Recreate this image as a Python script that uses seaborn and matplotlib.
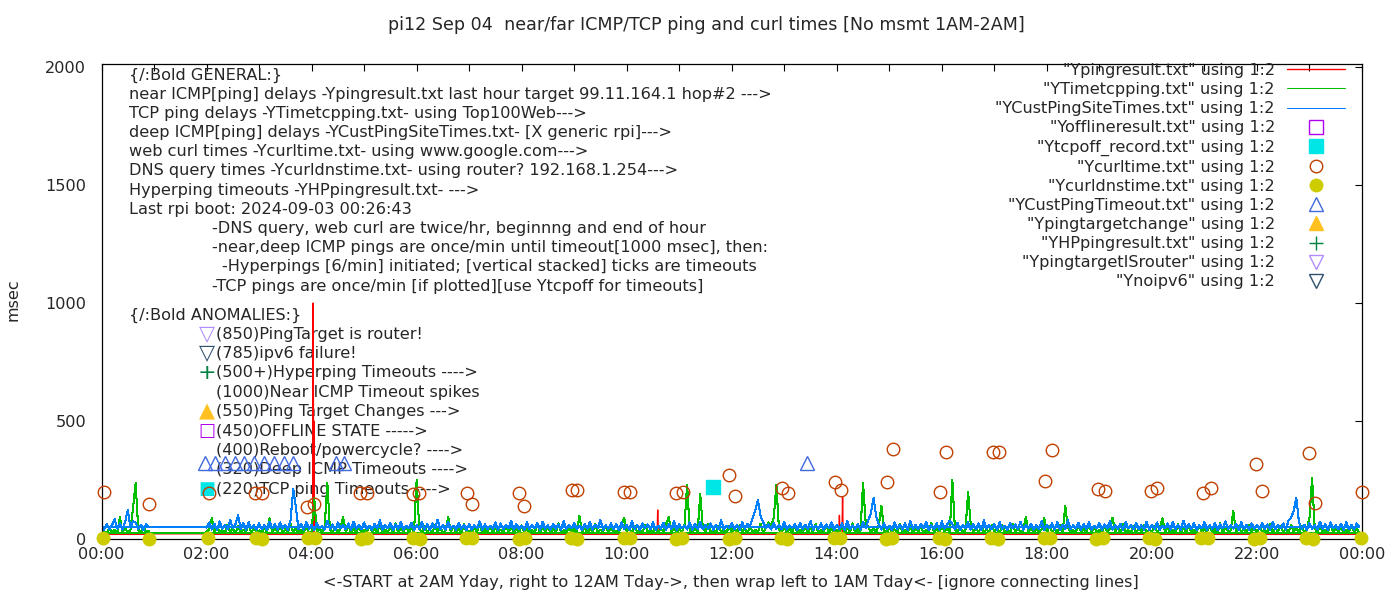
import numpy as np
import pandas as pd
import matplotlib
matplotlib.use("Agg")
import matplotlib.pyplot as plt
import seaborn as sns
from matplotlib.ticker import MultipleLocator, FuncFormatter

nan = np.nan

# 3-minute samples, one row per hour (00:00 .. 23:57); nan = no measurement
cust_ping_ms = [
    50, 40, 62, 42, 58, 85, 44, 66, 40, 72, 123, 48, 76, 70, 42, 60, 38, 64, 50, nan,      # 00
    nan, nan, nan, nan, nan, nan, nan, nan, nan, nan,
    nan, nan, nan, nan, nan, nan, nan, nan, nan, nan,                                     # 01
    48, 70, 40, 64, 38, 75, 44, 60, 41, 80, 46, 62, 100, 43, 68, 39, 72, 45, 58, 40,       # 02
    66, 42, 58, 38, 74, 45, 62, 40, 70, 44, 59, 39, 80, 212, 136, 42, 65, 40, 72, 44,      # 03
    60, 38, 68, 45, 56, 40, 78, 43, 62, 37, 70, 46, 58, 41, 66, 39, 73, 44, 60, 42,        # 04
    70, 41, 57, 39, 65, 44, 80, 40, 59, 46, 68, 38, 62, 43, 74, 40, 56, 45, 69, 39,        # 05
    58, 44, 72, 40, 63, 38, 66, 45, 82, 41, 60, 39, 71, 44, 57, 40, 68, 43, 61, 38,        # 06
    64, 40, 59, 45, 75, 39, 62, 42, 57, 44, 70, 38, 66, 41, 60, 46, 78, 40, 63, 43,        # 07
    56, 39, 71, 42, 60, 45, 67, 38, 74, 43, 58, 40, 65, 44, 62, 39, 76, 42, 59, 45,        # 08
    69, 41, 57, 38, 64, 44, 72, 40, 61, 46, 80, 39, 58, 43, 67, 41, 63, 38, 70, 44,        # 09
    60, 40, 75, 43, 58, 39, 66, 45, 62, 41, 71, 38, 57, 44, 68, 40, 64, 42, 77, 39,        # 10
    62, 45, 58, 40, 70, 38, 65, 43, 73, 41, 59, 44, 66, 39, 61, 42, 79, 40, 57, 45,        # 11
    67, 41, 60, 39, 72, 44, 63, 58, 90, 123, 165, 95, 70, 46, 62, 40, 68, 43, 59, 41,      # 12
    74, 40, 58, 45, 63, 38, 69, 42, 61, 44, 76, 39, 57, 43, 66, 40, 62, 45, 71, 38,        # 13
    60, 43, 68, 39, 75, 41, 58, 44, 64, 40, 72, 46, 80, 110, 174, 95, 62, 40, 66, 43,      # 14
    57, 39, 70, 44, 61, 40, 66, 38, 78, 43, 59, 41, 64, 45, 73, 39, 58, 42, 67, 40,        # 15
    75, 44, 60, 78, 62, 41, 69, 39, 58, 45, 72, 40, 63, 42, 66, 38, 80, 44, 59, 41,        # 16
    64, 40, 71, 43, 57, 39, 68, 45, 62, 41, 74, 38, 60, 44, 65, 40, 58, 42, 76, 39,        # 17
    59, 45, 66, 40, 73, 38, 61, 43, 80, 41, 58, 44, 69, 39, 63, 42, 71, 40, 57, 45,        # 18
    68, 39, 62, 44, 76, 40, 58, 42, 65, 38, 72, 45, 60, 41, 67, 43, 59, 40, 74, 38,        # 19
    61, 43, 70, 39, 57, 45, 66, 40, 73, 42, 60, 38, 78, 44, 63, 41, 69, 39, 58, 45,        # 20
    72, 40, 59, 43, 67, 38, 62, 45, 75, 41, 58, 44, 64, 39, 71, 42, 60, 40, 66, 43,        # 21
    58, 41, 69, 44, 62, 39, 73, 42, 60, 45, 66, 40, 78, 90, 120, 174, 70, 43, 61, 39,      # 22
    67, 44, 59, 40, 74, 42, 63, 38, 70, 45, 58, 41, 65, 39, 72, 43, 60, 40, 66, 50,        # 23
]

tcp_ping_ms = [
    26, 34, 25, 45, 28, 38, 26, 93, 30, 48, 27, 36, 131, 237, 40, 26, 52, 28, 35, nan,     # 00
    nan, nan, nan, nan, nan, nan, nan, nan, nan, nan,
    25, 25, 25, 25, 25, 25, 25, 25, 25, 25,                                               # 01
    30, 42, 88, 27, 50, 29, 38, 26, 61, 31, 44, 25, 55, 28, 40, 30, 66, 27, 47, 29,        # 02
    36, 26, 52, 30, 88, 27, 45, 31, 58, 25, 41, 29, 63, 28, 48, 26, 39, 30, 54, 27,        # 03
    30, 174, 28, 46, 26, 55, 237, 40, 29, 51, 27, 44, 93, 30, 58, 26, 42, 31, 49, 28,      # 04
    40, 27, 57, 30, 45, 26, 62, 29, 38, 31, 50, 25, 66, 28, 43, 30, 54, 27, 47, 29,        # 05
    250, 45, 28, 53, 30, 40, 27, 60, 29, 48, 26, 36, 93, 31, 57, 28, 44, 26, 62, 30,       # 06
    35, 26, 52, 29, 64, 27, 41, 31, 56, 25, 47, 30, 39, 28, 60, 26, 50, 29, 43, 27,        # 07
    58, 30, 45, 26, 38, 29, 62, 27, 49, 31, 55, 25, 42, 28, 66, 30, 37, 26, 53, 29,        # 08
    41, 27, 97, 30, 50, 26, 44, 29, 63, 28, 39, 31, 57, 25, 48, 30, 36, 27, 59, 90,        # 09
    30, 46, 26, 55, 29, 40, 27, 61, 31, 37, 28, 52, 25, 45, 30, 64, 92, 28, 49, 26,        # 10
    43, 30, 58, 229, 35, 27, 50, 29, 190, 46, 31, 62, 28, 41, 26, 54, 30, 39, 27, 57,      # 11
    29, 48, 26, 60, 30, 44, 27, 53, 31, 38, 28, 65, 25, 47, 70, 56, 90, 229, 40, 28,       # 12
    52, 27, 43, 30, 61, 26, 39, 29, 55, 28, 46, 31, 64, 25, 37, 30, 58, 27, 45, 29,        # 13
    38, 30, 56, 27, 48, 29, 66, 26, 42, 31, 237, 70, 50, 28, 45, 30, 60, 140, 35, 27,      # 14
    50, 26, 41, 30, 63, 28, 37, 29, 54, 27, 46, 31, 59, 25, 40, 30, 67, 28, 44, 26,        # 15
    57, 29, 45, 27, 250, 40, 30, 52, 28, 38, 200, 62, 31, 47, 26, 55, 29, 41, 27, 60,      # 16
    30, 44, 26, 58, 29, 39, 27, 63, 31, 48, 28, 36, 93, 30, 51, 26, 45, 29, 40, 88,        # 17
    28, 54, 30, 42, 26, 61, 29, 140, 47, 31, 38, 27, 57, 30, 44, 25, 65, 28, 50, 30,       # 18
    39, 27, 56, 29, 43, 90, 31, 49, 26, 62, 30, 37, 28, 53, 27, 46, 31, 59, 26, 41,        # 19
    30, 57, 28, 44, 88, 29, 51, 27, 38, 31, 63, 26, 47, 30, 55, 28, 40, 29, 60, 27,        # 20
    45, 30, 58, 26, 41, 29, 66, 27, 50, 31, 37, 119, 28, 54, 30, 43, 26, 61, 29, 48,       # 21
    27, 52, 30, 39, 28, 64, 26, 46, 31, 57, 29, 42, 27, 60, 30, 48, 26, 55, 28, 41,        # 22
    90, 258, 45, 28, 56, 30, 40, 27, 62, 29, 47, 31, 53, 26, 38, 30, 59, 28, 44, 27,       # 23
]
assert len(cust_ping_ms) == 480 and len(tcp_ping_ms) == 480

# near ICMP ping: flat, with timeout spikes
near_ping_hours = [0.0, 0.92, 2.0, 4.02, 4.03, 4.04, 4.045, 4.05, 8.32, 8.33, 8.34,
                   10.58, 10.59, 10.6, 13.29, 13.3, 13.31, 14.04, 14.05, 14.06,
                   14.1, 14.11, 14.12, 23.98]
near_ping_ms = [22, 22, 22, 22, 1000, 22, 500, 22, 22, 36, 22,
                22, 123, 22, 22, 40, 22, 22, 100, 22,
                22, 178, 22, 22]

curl_hours = [0.04, 0.91, 2.04, 2.93, 3.06, 3.92, 4.05, 4.93, 5.06, 5.94, 6.05,
              6.95, 7.06, 7.94, 8.05, 8.95, 9.06, 9.95, 10.07, 10.94, 11.08,
              11.95, 12.07, 12.96, 13.08, 13.97, 14.08, 14.96, 15.07, 15.97, 16.08,
              16.98, 17.09, 17.97, 18.10, 18.98, 19.11, 19.98, 20.10, 20.97, 21.13,
              21.98, 22.10, 22.99, 23.11, 24.0]
curl_ms = [199, 148, 197, 195, 195, 136, 148, 195, 195, 191, 195,
           195, 148, 195, 140, 208, 208, 199, 199, 195, 199,
           271, 182, 216, 195, 242, 208, 242, 381, 199, 369,
           369, 369, 246, 377, 212, 203, 203, 216, 195, 216,
           318, 203, 364, 153, 199]

dns_hours = [0.03, 0.91, 2.03, 2.94, 3.06, 3.94, 4.06, 4.94, 5.06, 5.94, 6.06,
             6.94, 7.06, 7.94, 8.06, 8.94, 9.06, 9.94, 10.06, 10.94, 11.06,
             11.94, 12.06, 12.94, 13.06, 13.94, 14.06, 14.94, 15.06, 15.94, 16.06,
             16.94, 17.06, 17.94, 18.06, 18.94, 19.06, 19.94, 20.06, 20.94, 21.06,
             21.94, 22.06, 22.94, 23.06, 23.98]
dns_ms = [3, 2, 4, 3, 2, 5, 3, 2, 4, 3, 2,
          3, 4, 2, 3, 5, 2, 3, 4, 2, 3,
          2, 4, 3, 2, 3, 5, 2, 3, 4, 2,
          3, 2, 4, 3, 2, 3, 4, 2, 3, 5,
          2, 3, 4, 2, 3]

cust_timeout_hours = [1.98, 2.17, 2.35, 2.54, 2.72, 2.91, 3.10, 3.28, 3.47, 3.65,
                      4.47, 4.61, 13.44]
cust_timeout_ms = [320, 320, 320, 320, 320, 320, 320, 320, 320, 320,
                   320, 320, 322]

tcpoff_hours = [11.65]
tcpoff_ms = [220]

# files with no entries today
offline_hours, offline_ms = [], []
target_change_hours, target_change_ms = [], []
hp_hours, hp_ms = [], []
is_router_hours, is_router_ms = [], []
noipv6_hours, noipv6_ms = [], []

general_lines = [
    "{/:Bold GENERAL:}",
    "near ICMP[ping] delays -Ypingresult.txt last hour target 99.11.164.1 hop#2 --->",
    "TCP ping delays -YTimetcpping.txt- using Top100Web--->",
    "deep ICMP[ping] delays -YCustPingSiteTimes.txt- [X generic rpi]--->",
    "web curl times -Ycurltime.txt- using www.google.com--->",
    "DNS query times -Ycurldnstime.txt- using router? 192.168.1.254--->",
    "Hyperping timeouts -YHPpingresult.txt- --->",
    "Last rpi boot: 2024-09-03 00:26:43",
]
note_lines = [
    "-DNS query, web curl are twice/hr, beginnng and end of hour",
    "-near,deep ICMP pings are once/min until timeout[1000 msec], then:",
    "  -Hyperpings [6/min] initiated; [vertical stacked] ticks are timeouts",
    "-TCP pings are once/min [if plotted][use Ytcpoff for timeouts]",
]
anomaly_lines = [
    "(850)PingTarget is router!",
    "(785)ipv6 failure!",
    "(500+)Hyperping Timeouts ---->",
    "(1000)Near ICMP Timeout spikes",
    "(550)Ping Target Changes --->",
    "(450)OFFLINE STATE ----->",
    "(400)Reboot/powercycle? ---->",
    "(320)Deep ICMP Timeouts ---->",
    "(220)TCP ping Timeouts ---->",
]
# symbol shown in front of each anomaly line ('' = none)
anomaly_symbols = [("▽", "#b08cff"), ("▽", "#2f4f6f"), ("+", "#008040"), ("", ""),
                   ("▲", "#ffc020"), ("□", "#b000f0"), ("", ""), ("", ""),
                   ("■", "#00e5e5")]

RED, GREEN, BLUE = "#ff0000", "#00c000", "#0080ff"
FS = 11.6

sns.set_style("white")
plt.rcParams["font.family"] = ["DejaVu Sans"]
plt.rcParams["font.size"] = FS

W, H = 1400, 600
fig = plt.figure(figsize=(W / 100, H / 100), dpi=100)
L, R, T, B = 101.5, 1362, 64, 539
ax = fig.add_axes([L / W, 1 - B / H, (R - L) / W, (B - T) / H])


def fpos(x, y):
    return x / W, 1 - y / H


def chronological(hours, values, start):
    # data file runs from `start` (Yday) to midnight, then wraps to early Tday
    df = pd.DataFrame({"hour": hours, "ms": values})
    return pd.concat([df[df.hour >= start], df[df.hour < start]])


sample_hours = np.arange(len(cust_ping_ms)) / 20

red_df = chronological(near_ping_hours, near_ping_ms, 2.0)
green_df = chronological(sample_hours, tcp_ping_ms, 1.5)
blue_df = chronological(sample_hours, cust_ping_ms, 2.0)

handles = []
for df, col, lw, aa in [(red_df, RED, 1.0, True), (green_df, GREEN, 0.75, False),
                        (blue_df, BLUE, 0.75, False)]:
    sns.lineplot(data=df, x="hour", y="ms", sort=False, estimator=None,
                 color=col, linewidth=lw, antialiased=aa, ax=ax, zorder=2)
    handles.append(ax.lines[-1])

point_series = [
    (offline_hours, offline_ms, "s", "#b000f0", False, 9.5),
    (tcpoff_hours, tcpoff_ms, "s", "#00e5e5", True, 9.5),
    (curl_hours, curl_ms, "o", "#c04000", False, 9),
    (dns_hours, dns_ms, "o", "#cccc00", True, 9),
    (cust_timeout_hours, cust_timeout_ms, "^", "#4169e1", False, 10),
    (target_change_hours, target_change_ms, "^", "#ffc020", True, 10),
    (hp_hours, hp_ms, "+", "#008040", True, 10),
    (is_router_hours, is_router_ms, "v", "#b08cff", False, 10),
    (noipv6_hours, noipv6_ms, "v", "#2f4f6f", False, 10),
]
for xs, ys, mk, col, filled, size in point_series:
    ln, = ax.plot(xs, ys, linestyle="none", marker=mk, markersize=size,
                  markeredgecolor=col, markerfacecolor=col if filled else "none",
                  markeredgewidth=1.0, clip_on=False, zorder=3)
    handles.append(ln)

labels = ['"Ypingresult.txt" using 1:2', '"YTimetcpping.txt" using 1:2',
          '"YCustPingSiteTimes.txt" using 1:2', '"Yofflineresult.txt" using 1:2',
          '"Ytcpoff_record.txt" using 1:2', '"Ycurltime.txt" using 1:2',
          '"Ycurldnstime.txt" using 1:2', '"YCustPingTimeout.txt" using 1:2',
          '"Ypingtargetchange" using 1:2', '"YHPpingresult.txt" using 1:2',
          '"YpingtargetISrouter" using 1:2', '"Ynoipv6" using 1:2']
leg = ax.legend(handles, labels, loc="upper right", bbox_to_anchor=fpos(1345, 63),
                bbox_transform=fig.transFigure, frameon=False, markerfirst=False,
                borderpad=0, borderaxespad=0, handlelength=3.6, handletextpad=0.75,
                labelspacing=0.255, numpoints=1, fontsize=FS)

ax.set_xlim(0, 24)
ax.set_ylim(0, 2013)
ax.xaxis.set_major_locator(MultipleLocator(2))
ax.xaxis.set_minor_locator(MultipleLocator(1))
ax.xaxis.set_major_formatter(FuncFormatter(lambda v, p: "%02d:00" % (int(round(v)) % 24)))
ax.yaxis.set_major_locator(MultipleLocator(500))
ax.tick_params(which="both", direction="in", top=True, right=True, length=5,
               width=0.8, color="black")
ax.tick_params(axis="x", pad=6, labelsize=FS)
ax.tick_params(axis="y", pad=11, labelsize=FS)
ax.set_xlabel("")
ax.set_ylabel("")
for s in ax.spines.values():
    s.set_color("black")
    s.set_linewidth(0.9)

# annotation block (drawn under the data, as gnuplot does)
for i, line in enumerate(general_lines):
    ax.text(*fpos(129, 75 + 19.2 * i), line, transform=fig.transFigure,
            fontsize=FS, va="center", ha="left", zorder=1)
for i, line in enumerate(note_lines):
    x0 = 222 if line.startswith(" ") else 212
    ax.text(*fpos(x0, 228 + 19.4 * i), line.strip(), transform=fig.transFigure,
            fontsize=FS, va="center", ha="left", zorder=1)
ax.text(*fpos(129, 315), "{/:Bold ANOMALIES:}", transform=fig.transFigure,
        va="center", ha="left", fontsize=FS, zorder=1)
for i, (line, (sym, col)) in enumerate(zip(anomaly_lines, anomaly_symbols)):
    y = 334 + 19.4 * i
    ax.text(*fpos(216, y), line, transform=fig.transFigure, va="center",
            ha="left", fontsize=FS, zorder=1)
    if sym:
        size = 16 if sym == "+" else (13 if sym in "□■" else 15)
        ax.text(*fpos(207, y), sym, transform=fig.transFigure, va="center",
                ha="center", fontsize=size, color=col, zorder=1)

fig.text(*fpos(706, 25), "pi12 Sep 04  near/far ICMP/TCP ping and curl times [No msmt 1AM-2AM]",
         ha="center", va="center", fontsize=12.6)
fig.text(*fpos(731, 583), "<-START at 2AM Yday, right to 12AM Tday->, then wrap left to 1AM Tday<- [ignore connecting lines]",
         ha="center", va="center", fontsize=FS)
fig.text(*fpos(13, 300), "msec", rotation=90, ha="center", va="center", fontsize=FS)

fig.savefig("out.png", dpi=100)
